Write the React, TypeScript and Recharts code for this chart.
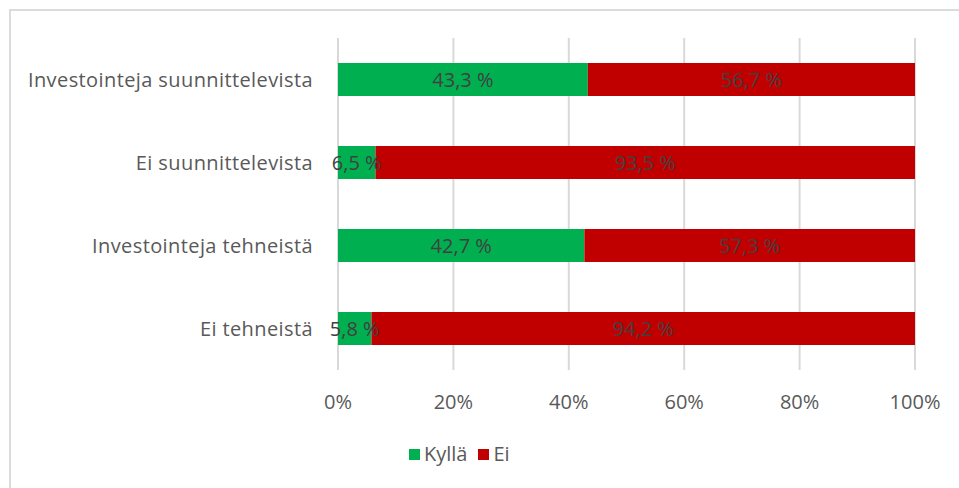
import React from "react";
import { BarChart, Bar, XAxis, YAxis, CartesianGrid, LabelList } from "recharts";

const categories = [
  "Investointeja suunnittelevista",
  "Ei suunnittelevista",
  "Investointeja tehneistä",
  "Ei tehneistä",
];
const kyllaValues = [43.3, 6.5, 42.7, 5.8];
const eiValues = [56.7, 93.5, 57.3, 94.2];
const xTicks = [0, 20, 40, 60, 80, 100];
const seriesNames = ["Kyllä", "Ei"];

const data = categories.map((name, i) => ({ name, kylla: kyllaValues[i], ei: eiValues[i] }));

const FONT = "'Open Sans', sans-serif";
const FS = 20;
const GREEN = "#00B050";
const RED = "#C00000";

const fmtLabel = (v: any) => `${Number(v).toFixed(1).replace(".", ",")} %`;

const YTick = (props: any) => {
  const { x, y, payload } = props;
  return (
    <text x={x - 17} y={y} textAnchor="end" dominantBaseline="central" fill="#595959" fontSize={FS} fontFamily={FONT} letterSpacing={0.4}>
      {payload.value}
    </text>
  );
};

const XTick = (props: any) => {
  const { x, y, payload } = props;
  return (
    <text x={x} y={y + 23} textAnchor="middle" dominantBaseline="central" fill="#595959" fontSize={FS} fontFamily={FONT}>
      {`${payload.value}%`}
    </text>
  );
};

const BarLabel = (props: any) => {
  const { x, y, width, height, value } = props;
  return (
    <text
      x={Number(x) + Number(width) / 2}
      y={Number(y) + Number(height) / 2}
      textAnchor="middle"
      dominantBaseline="central"
      fill="#404040"
      fontSize={FS}
      fontFamily={FONT}
    >
      {fmtLabel(value)}
    </text>
  );
};

export default function App() {
  return (
    <div style={{ position: "absolute", left: 0, top: 0, width: 959, height: 488, background: "#fff" }}>
      <div
        style={{
          position: "absolute",
          left: 9,
          top: 9,
          width: 960,
          height: 490,
          borderTop: "2px solid #DCDCDC",
          borderLeft: "2px solid #DCDCDC",
          boxSizing: "border-box",
        }}
      />
      <BarChart
        width={959}
        height={488}
        data={data}
        layout="vertical"
        margin={{ top: 38, right: 44, bottom: 88, left: 0 }}
        style={{ position: "absolute", left: 0, top: 0 }}
      >
        <CartesianGrid horizontal={false} vertical={true} stroke="#D9D9D9" strokeWidth={2} />
        <XAxis
          type="number"
          domain={[0, 100]}
          ticks={xTicks}
          axisLine={false}
          tickLine={false}
          tick={<XTick />}
          interval={0}
          height={30}
        />
        <YAxis
          type="category"
          dataKey="name"
          width={338}
          axisLine={false}
          tickLine={false}
          tick={<YTick />}
          interval={0}
        />
        <Bar dataKey="kylla" name={seriesNames[0]} stackId="a" fill={GREEN} barSize={33} isAnimationActive={false}>
          <LabelList dataKey="kylla" content={<BarLabel />} />
        </Bar>
        <Bar dataKey="ei" name={seriesNames[1]} stackId="a" fill={RED} barSize={33} isAnimationActive={false}>
          <LabelList dataKey="ei" content={<BarLabel />} />
        </Bar>
      </BarChart>
      <div
        style={{
          position: "absolute",
          top: 442,
          left: 409,
          display: "flex",
          alignItems: "center",
          fontFamily: FONT,
          fontSize: FS,
          color: "#595959",
          lineHeight: "24px",
        }}
      >
        <span style={{ display: "inline-block", width: 11, height: 11, background: GREEN, marginRight: 4 }} />
        <span style={{ marginRight: 11 }}>{seriesNames[0]}</span>
        <span style={{ display: "inline-block", width: 11, height: 11, background: RED, marginRight: 4 }} />
        <span>{seriesNames[1]}</span>
      </div>
    </div>
  );
}
